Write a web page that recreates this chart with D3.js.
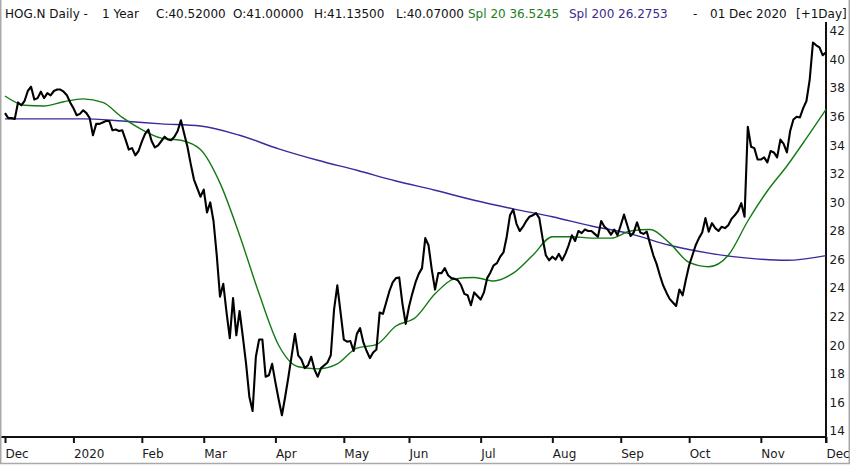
<!DOCTYPE html>
<html>
<head>
<meta charset="utf-8">
<script src="https://cdn.jsdelivr.net/npm/d3@7"></script>
<style>
  html, body { margin: 0; padding: 0; background: #fff; }
  svg { display: block; font-family: "DejaVu Sans", Verdana, sans-serif; }
</style>
</head>
<body>
<svg width="850" height="465"></svg>
<script>
let width = 850,
    height = 465;

// NYSE trading calendar, Dec 2019 - Dec 2020
let firstDay = "2019-12-02",
    lastDay = "2020-12-01";
let holidays = ["2019-12-25", "2020-01-01", "2020-01-20", "2020-02-17", "2020-04-10",
    "2020-05-25", "2020-07-03", "2020-09-07", "2020-11-26"];

// daily close, one per trading day
let closes = [
    36.25, 35.9, 35.9, 35.85, 37.0, 36.8, 37.1, 37.8, 38.1, 37.2,
    37.3, 37.75, 37.3, 37.65, 37.5, 37.8, 37.9, 37.9, 37.75, 37.5,
    37.0, 36.6, 36.1, 36.2, 36.45, 36.25, 35.9, 34.7, 35.5, 35.5,
    35.6, 35.7, 35.7, 35.05, 35.1, 35.0, 35.05, 34.4, 33.7, 33.8,
    33.3, 33.6, 34.25, 34.8, 35.1, 34.3, 33.85, 34.0, 34.3, 34.6,
    34.4, 34.35, 34.6, 35.0, 35.75, 34.8, 33.9, 32.7, 31.6, 31.0,
    30.4, 30.9, 29.3, 30.0, 28.7, 26.3, 23.4, 24.3, 22.3, 20.5,
    23.3, 20.7, 22.4, 20.6, 18.7, 16.4, 15.4, 19.2, 20.4, 20.4,
    17.8, 17.9, 18.7, 17.4, 16.2, 15.1, 16.4, 17.8, 19.3, 20.8,
    19.3, 19.0, 18.4, 18.6, 19.2, 18.3, 17.8, 18.4, 18.6, 18.8,
    19.3, 22.5, 24.2, 22.3, 20.4, 20.25, 20.3, 19.6, 20.8, 21.2,
    20.2, 19.6, 19.1, 19.5, 19.7, 22.3, 22.2, 23.0, 23.8, 24.4,
    24.7, 24.75, 22.9, 21.5, 22.7, 23.6, 24.4, 25.0, 25.4, 27.5,
    27.0, 25.3, 23.9, 25.05, 25.05, 25.4, 24.9, 24.7, 24.65, 24.55,
    24.2, 23.6, 23.5, 22.8, 23.7, 23.45, 23.2, 23.7, 24.7, 25.1,
    25.6, 25.75, 26.2, 26.5, 27.6, 29.1, 29.5, 28.5, 28.0, 28.3,
    28.7, 29.0, 29.1, 29.25, 28.9, 27.5, 26.3, 25.95, 26.2, 26.0,
    26.4, 25.95, 26.4, 27.0, 27.7, 27.3, 28.0, 27.85, 28.1, 28.0,
    28.0, 27.8, 27.6, 28.7, 28.3, 28.1, 27.75, 28.1, 27.7, 28.4,
    29.15, 28.4, 27.65, 27.9, 28.6, 27.9, 27.8, 27.95, 27.1, 26.3,
    25.7, 24.9, 24.2, 23.7, 23.25, 23.0, 22.75, 23.9, 23.5, 24.6,
    25.6, 26.3, 27.0, 27.5, 27.9, 28.9, 27.95, 28.55, 28.2, 28.0,
    28.3, 28.2, 28.4, 28.85, 29.1, 29.4, 29.95, 29.0, 35.3, 33.9,
    33.8, 33.0, 33.0, 33.15, 32.8, 33.6, 33.5, 33.15, 34.4, 34.1,
    33.5, 35.0, 35.8, 36.0, 35.95, 36.6, 37.1, 38.6, 41.2, 41.0,
    40.85, 40.3, 40.52
];

// Spl 20, read every 6th trading day
let spl20Step = 6;
let spl20 = [
    37.45, 36.8, 36.75, 37.05, 37.25, 37.0, 35.95, 35.1, 34.5, 34.35,
    33.7, 31.35, 27.7, 23.6, 20.0, 18.5, 18.35, 18.7, 19.8, 20.05,
    21.35, 21.95, 23.6, 24.65, 24.75, 24.5, 25.05, 26.3, 27.6, 27.6,
    27.5, 27.5, 28.0, 28.1, 27.15, 25.8, 25.5, 26.3, 28.7, 30.8,
    32.55, 34.5, 36.52
];

// Spl 200, read every 12th trading day
let spl200Step = 12;
let spl200 = [
    35.85, 35.85, 35.85, 35.7, 35.5, 35.35, 34.7, 33.75, 32.95, 32.25,
    31.5, 30.85, 30.15, 29.55, 29.0, 28.35, 27.8, 27.0, 26.45, 26.1,
    25.95, 26.28
];

let yTicks = [14, 16, 18, 20, 22, 24, 26, 28, 30, 32, 34, 36, 38, 40, 42];

let header = [
    { text: "HOG.N Daily -", x: 5, color: "#111" },
    { text: "1 Year", x: 102, color: "#111" },
    { text: "C:40.52000", x: 156, color: "#111" },
    { text: "O:41.00000", x: 233, color: "#111" },
    { text: "H:41.13500", x: 314, color: "#111" },
    { text: "L:40.07000", x: 396, color: "#111" },
    { text: "Spl 20 36.5245", x: 468, color: "#1b7d1b" },
    { text: "Spl 200 26.2753", x: 569, color: "#3b2a8c" },
    { text: "-", x: 693, color: "#111" },
    { text: "01 Dec 2020", x: 710, color: "#111" },
    { text: "[+1Day]", x: 796, color: "#111" }
];

// build trading day list
let parse = d3.timeParse("%Y-%m-%d"),
    fmt = d3.timeFormat("%Y-%m-%d");
let days = d3.timeDay.range(parse(firstDay), d3.timeDay.offset(parse(lastDay), 1))
    .filter(d => d.getDay() != 0 && d.getDay() != 6 && holidays.indexOf(fmt(d)) < 0);

let plotLeft = 5, plotRight = 826, plotTop = 22, plotBottom = 437;

let x = d3.scaleLinear()
    .domain([0, days.length - 1])
    .range([plotLeft, plotRight]);

let y = d3.scaleLinear()
    .domain([14, 42])
    .range([431, 31]);

let svg = d3.select("svg")
    .attr("viewBox", "0 0 " + width + " " + height);

svg.append("rect")
    .attr("width", width)
    .attr("height", height)
    .attr("fill", "#fff");

// outer frame
svg.append("path")
    .attr("d", "M0.75,0 V" + (height - 1.5) + " H" + (width - 0.75) + " V0")
    .attr("fill", "none")
    .attr("stroke", "#a9a9a9")
    .attr("stroke-width", 1.5);

// header
svg.append("g")
    .selectAll("text")
    .data(header)
    .enter()
    .append("text")
    .attr("x", d => d.x)
    .attr("y", 18)
    .attr("fill", d => d.color)
    .style("font-size", "12px")
    .text(d => d.text);

// month ticks: first trading day in each month
let monthIdx = [];
days.forEach((d, i) => {
    if (i == 0 || d.getMonth() != days[i - 1].getMonth()) monthIdx.push(i);
});

let xAxis = d3.axisBottom(x)
    .tickValues(monthIdx)
    .tickSize(6)
    .tickPadding(6.5)
    .tickFormat(i => days[i].getMonth() == 0 ? d3.timeFormat("%Y")(days[i]) : d3.timeFormat("%b")(days[i]));

let gx = svg.append("g")
    .attr("transform", "translate(0," + plotBottom + ")")
    .call(xAxis);
gx.select(".domain").remove();
gx.selectAll(".tick line").attr("stroke", "#111").attr("stroke-width", 2);
gx.selectAll(".tick text")
    .attr("text-anchor", "start")
    .attr("x", 0)
    .attr("fill", "#1a1a1a")
    .style("font-size", "12px")
    .style("font-family", "DejaVu Sans, Verdana, sans-serif");

let yAxis = d3.axisRight(y)
    .tickValues(yTicks)
    .tickSize(0)
    .tickPadding(3.5);

let gy = svg.append("g")
    .attr("transform", "translate(" + plotRight + ",0)")
    .call(yAxis);
gy.select(".domain").remove();
gy.selectAll(".tick text")
    .attr("fill", "#1a1a1a")
    .style("font-size", "12px")
    .style("font-family", "DejaVu Sans, Verdana, sans-serif");

// axis frame lines
svg.append("line")
    .attr("x1", 1.5).attr("x2", plotRight + 1)
    .attr("y1", plotBottom).attr("y2", plotBottom)
    .attr("stroke", "#111").attr("stroke-width", 2);
svg.append("line")
    .attr("x1", plotRight).attr("x2", plotRight)
    .attr("y1", plotTop).attr("y2", plotBottom + 6)
    .attr("stroke", "#111").attr("stroke-width", 2);

// Spl 200
let maLine = d3.line()
    .x(d => x(d[0]))
    .y(d => y(d[1]))
    .curve(d3.curveMonotoneX);

svg.append("path")
    .datum(spl200.map((v, k) => [k * spl200Step, v]))
    .attr("d", maLine)
    .attr("fill", "none")
    .attr("stroke", "#3a2a9e")
    .attr("stroke-width", 1.4);

// Spl 20
svg.append("path")
    .datum(spl20.map((v, k) => [k * spl20Step, v]))
    .attr("d", maLine)
    .attr("fill", "none")
    .attr("stroke", "#137a13")
    .attr("stroke-width", 1.4);

// close
let closeLine = d3.line()
    .x((d, i) => x(i))
    .y(d => y(d));

svg.append("path")
    .datum(closes)
    .attr("d", closeLine)
    .attr("fill", "none")
    .attr("stroke", "#000")
    .attr("stroke-width", 2.1)
    .attr("stroke-linejoin", "round");
</script>
</body>
</html>
